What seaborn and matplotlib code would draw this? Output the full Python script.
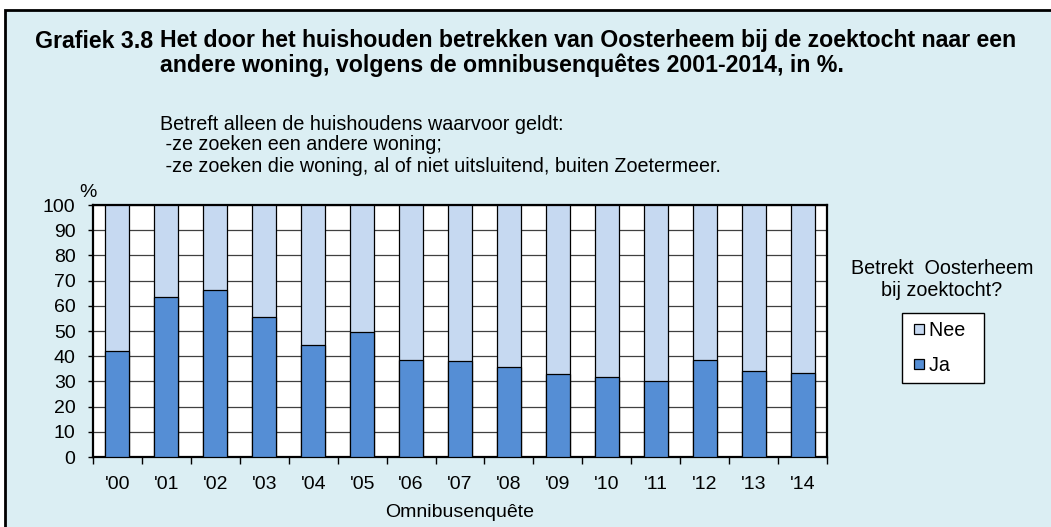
import numpy as np
import pandas as pd
import matplotlib.pyplot as plt
import seaborn as sns
from matplotlib.patches import Rectangle
from matplotlib.lines import Line2D
from matplotlib.ticker import FixedLocator

# Data
jaren = ["'00", "'01", "'02", "'03", "'04", "'05", "'06", "'07",
         "'08", "'09", "'10", "'11", "'12", "'13", "'14"]
ja = [42.1, 63.3, 66.2, 55.7, 44.3, 49.7, 38.6, 38.2,
      35.8, 33.0, 31.6, 30.0, 38.6, 34.2, 33.2]
nee = [57.9, 36.7, 33.8, 44.3, 55.7, 50.3, 61.4, 61.8,
       64.2, 67.0, 68.4, 70.0, 61.4, 65.8, 66.8]

kleur_ja = "#558ED5"
kleur_nee = "#C6D9F1"
achtergrond = "#DBEEF3"

df = pd.DataFrame({"jaar": jaren, "Ja": ja, "Nee": nee})
df["totaal"] = df["Ja"] + df["Nee"]

sns.set_style("white")
plt.rcParams["font.family"] = ["Liberation Sans", "DejaVu Sans"]
plt.rcParams["text.color"] = "black"
plt.rcParams["axes.labelcolor"] = "black"
plt.rcParams["xtick.color"] = "black"
plt.rcParams["ytick.color"] = "black"

W, H = 1051, 527
fig = plt.figure(figsize=(W / 100, H / 100), dpi=100)
fig.patch.set_facecolor("white")

# chart frame (light blue panel with black border)
fig.patches.append(Rectangle((5 / W, -0.05), 1.1, 1 - 10 / H + 0.05,
                             transform=fig.transFigure, facecolor=achtergrond,
                             edgecolor="black", linewidth=2, zorder=-1))

ax = fig.add_axes([93 / W, 1 - 457 / H, (827 - 93) / W, (457 - 205) / H])
ax.set_zorder(2)
ax.set_facecolor("white")

sns.barplot(data=df, x="jaar", y="totaal", color=kleur_nee, width=0.49,
            edgecolor="black", linewidth=0.9, saturation=1, ax=ax, zorder=3)
sns.barplot(data=df, x="jaar", y="Ja", color=kleur_ja, width=0.49,
            edgecolor="black", linewidth=0.9, saturation=1, ax=ax, zorder=3)

ax.set_ylim(0, 100)
ax.set_xlim(-0.5, len(jaren) - 0.5)
ax.set_yticks(range(0, 101, 10))
ax.yaxis.grid(True, color="#404040", linewidth=0.9, zorder=1)
ax.set_axisbelow(True)

ax.tick_params(axis="y", labelsize=14, length=3.6, width=1, color="black",
               left=True, pad=9)
ax.tick_params(axis="x", which="major", labelsize=14, length=0, pad=14)
ax.xaxis.set_minor_locator(FixedLocator(np.arange(-0.5, len(jaren), 1)))
ax.tick_params(axis="x", which="minor", length=5, width=1, color="black",
               bottom=True, direction="out")

for s in ax.spines.values():
    s.set_visible(True)
    s.set_color("black")
    s.set_linewidth(1.6)

ax.set_xlabel("Omnibusenquête", fontsize=14, labelpad=7.5)
ax.set_ylabel("")
ax.text(-0.6, 101.5, "%", fontsize=14, ha="center", va="bottom")

# titles
fig.text(35 / W, 1 - 41 / H, "Grafiek 3.8", fontsize=16.7, fontweight="bold",
         ha="left", va="center")
fig.text(160 / W, 1 - 41 / H,
         "Het door het huishouden betrekken van Oosterheem bij de zoektocht naar een",
         fontsize=16.7, fontweight="bold", ha="left", va="center")
fig.text(160 / W, 1 - 65 / H,
         "andere woning, volgens de omnibusenquêtes 2001-2014, in %.",
         fontsize=16.7, fontweight="bold", ha="left", va="center")

fig.text(160 / W, 1 - 125 / H, "Betreft alleen de huishoudens waarvoor geldt:",
         fontsize=14.2, ha="left", va="center")
fig.text(160 / W, 1 - 145 / H, " -ze zoeken een andere woning;",
         fontsize=14.2, ha="left", va="center")
fig.text(160 / W, 1 - 166 / H,
         " -ze zoeken die woning, al of niet uitsluitend, buiten Zoetermeer.",
         fontsize=14.2, ha="left", va="center")

# legend
fig.text(942 / W, 1 - 268 / H, "Betrekt  Oosterheem", fontsize=14.2,
         ha="center", va="center")
fig.text(942 / W, 1 - 291 / H, "bij zoektocht?", fontsize=14.2,
         ha="center", va="center")
handles = [Line2D([], [], linestyle="none", marker="s", markersize=7.5,
                  markerfacecolor=kleur_nee, markeredgecolor="black",
                  markeredgewidth=0.9, label="Nee  "),
           Line2D([], [], linestyle="none", marker="s", markersize=7.5,
                  markerfacecolor=kleur_ja, markeredgecolor="black",
                  markeredgewidth=0.9, label="Ja  ")]
fig.legend(handles=handles, loc="center", bbox_to_anchor=(943 / W, 1 - 348 / H),
           frameon=True, fancybox=False, edgecolor="black", fontsize=14.2,
           handlelength=0.95, handletextpad=0.0,
           labelspacing=0.85, borderpad=0.4, framealpha=1)

fig.savefig("out.png", dpi=100, facecolor=fig.get_facecolor())
